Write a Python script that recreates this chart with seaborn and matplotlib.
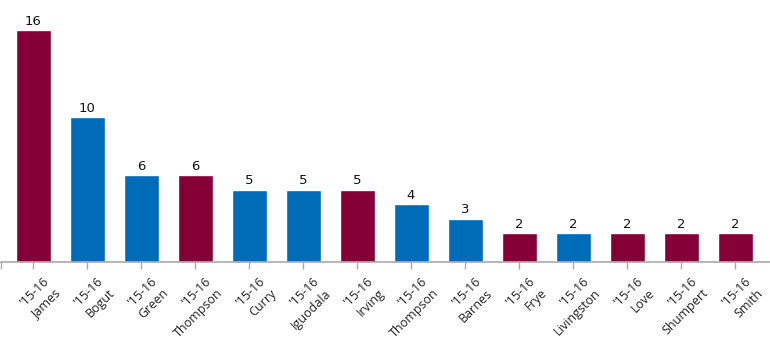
import matplotlib
matplotlib.use("Agg")
import matplotlib.pyplot as plt
import matplotlib.transforms as mtransforms
import seaborn as sns
import pandas as pd

players = ["James", "Bogut", "Green", "Thompson", "Curry", "Iguodala", "Irving",
           "Thompson", "Barnes", "Frye", "Livingston", "Love", "Shumpert", "Smith"]
season = "'15-16"
values = [16, 10, 6, 6, 5, 5, 5, 4, 3, 2, 2, 2, 2, 2]
teams = ["CLE", "GSW", "GSW", "CLE", "GSW", "GSW", "CLE",
         "GSW", "GSW", "CLE", "GSW", "CLE", "CLE", "CLE"]
team_colors = {"CLE": "#860038", "GSW": "#006BB6"}

labels = [f"{season}\n{p}" for p in players]
df = pd.DataFrame({"idx": [str(i) for i in range(len(values))], "value": values, "team": teams})

sns.set_style("white")
plt.rcParams['font.family'] = ['Open Sans', 'DejaVu Sans']

fig = plt.figure(figsize=(7.7, 3.53), dpi=100)
ax = fig.add_axes([0, 91/353, 1, 262/353])

sns.barplot(data=df, x="idx", y="value", hue="team", palette=team_colors,
            dodge=False, width=35/54, legend=False, ax=ax, saturation=1)

for i, v in enumerate(values):
    ax.annotate(str(v), (i, v), xytext=(0, 1.5), textcoords="offset points",
                ha="center", va="bottom", fontsize=9.5, color="#111111",
                family="DejaVu Sans")

xmin = -33 / 54
ax.set_xlim(xmin, (770 - 33) / 54)
ax.set_ylim(0, 16 * 262 / 232)
ax.set_xlabel("")
ax.set_ylabel("")
ax.set_yticks([])
for s in ["top", "right", "left"]:
    ax.spines[s].set_visible(False)
ax.spines["bottom"].set_color("#aaaaaa")
ax.spines["bottom"].set_linewidth(1.2)
ax.tick_params(axis="x", which="both", length=5, width=1, color="#aaaaaa", pad=4, bottom=True)
ax.set_xticks([xmin + 0.015], minor=True)
ax.set_xticks(range(len(values)))
ax.set_xticklabels(labels, rotation=45, ha="right", rotation_mode="anchor",
                   fontsize=9, color="#222222", linespacing=1.4, multialignment="right")
offset = mtransforms.ScaledTranslation(9/100, 0, fig.dpi_scale_trans)
for lab in ax.get_xticklabels():
    lab.set_transform(lab.get_transform() + offset)

fig.savefig("out.png", dpi=100)
